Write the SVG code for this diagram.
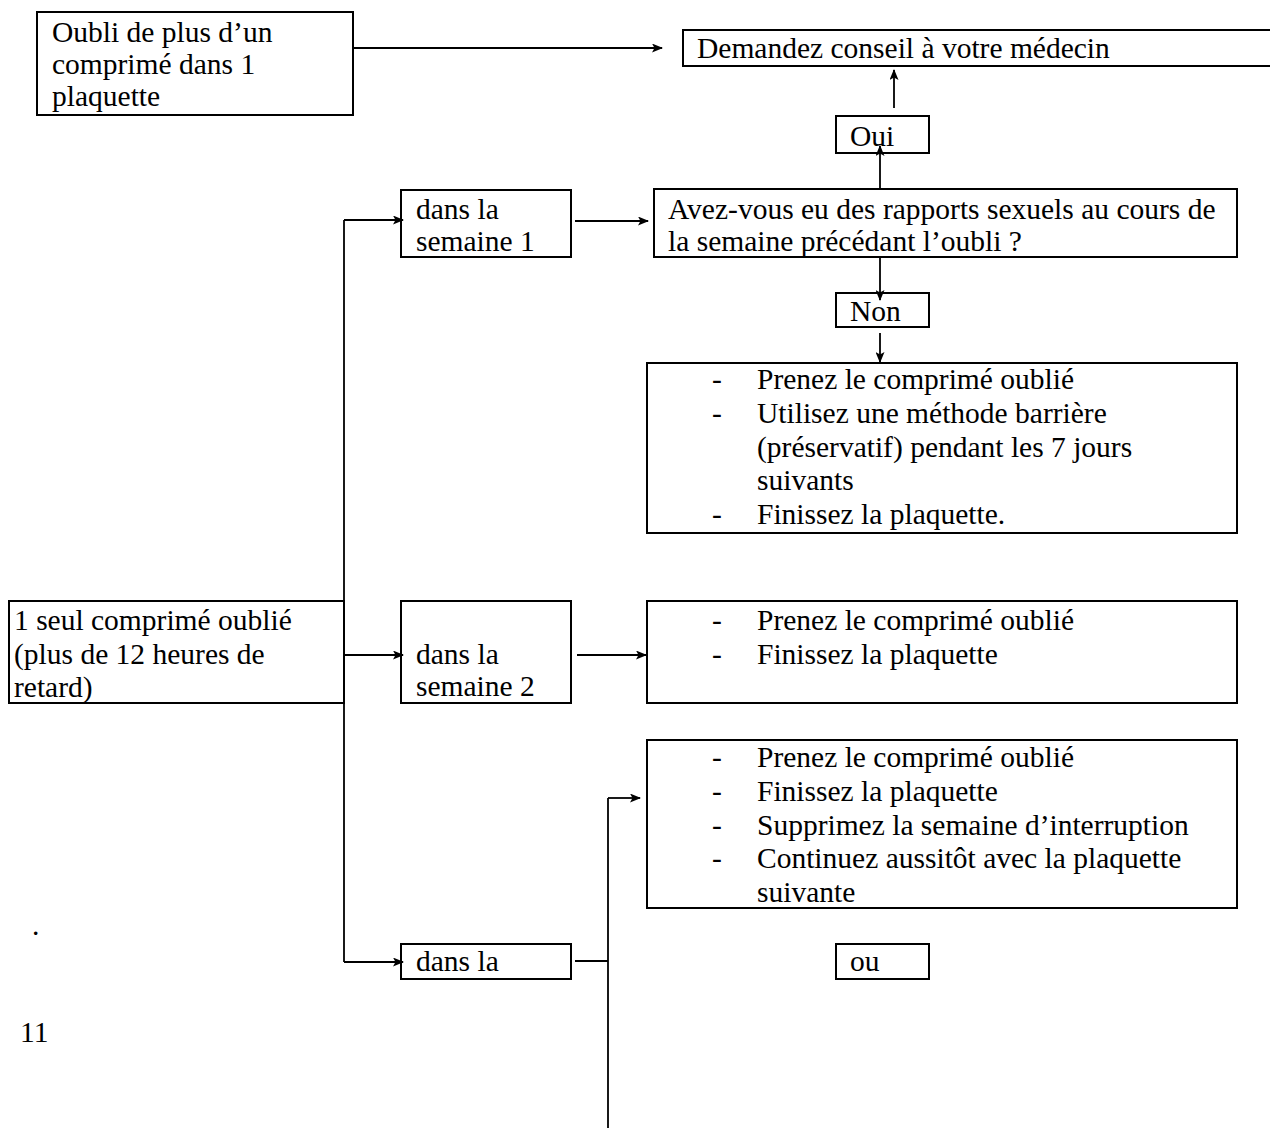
<svg xmlns="http://www.w3.org/2000/svg" width="1270" height="1131" viewBox="0 0 1270 1131">
<defs>
<marker id="ah" markerWidth="11" markerHeight="9" refX="10" refY="4.5" orient="auto" markerUnits="userSpaceOnUse">
<path d="M0,0 L11,4.5 L0,9 L2.5,4.5 Z" fill="#000"/>
</marker>
<style>
.box{fill:#fff;stroke:#000;stroke-width:2}
.t{font-family:"Liberation Serif","Times New Roman",serif;font-size:29.5px;fill:#000}
.c{fill:none;stroke:#000;stroke-width:1.8}
.a{fill:none;stroke:#000;stroke-width:1.8;marker-end:url(#ah)}
</style>
</defs>
<rect width="1270" height="1131" fill="#fff"/>
<g id="n-oubli-plus"><rect class="box" x="37" y="12" width="316" height="103"/>
<text class="t" x="52" y="42">Oubli de plus d’un</text><text class="t" x="52" y="74">comprimé dans 1</text><text class="t" x="52" y="106">plaquette</text></g>
<g id="n-medecin"><rect class="box" x="683" y="30" width="590" height="36"/>
<text class="t" x="697" y="58">Demandez conseil à votre médecin</text></g>
<g id="n-oui"><rect class="box" x="836" y="116" width="93" height="37"/>
<text class="t" x="850" y="146">Oui</text></g>
<g id="n-sem1"><rect class="box" x="401" y="190" width="170" height="67"/>
<text class="t" x="416" y="219">dans la</text><text class="t" x="416" y="251">semaine 1</text></g>
<g id="n-question"><rect class="box" x="654" y="189" width="583" height="68"/>
<text class="t" x="668" y="219">Avez-vous eu des rapports sexuels au cours de</text><text class="t" x="668" y="251">la semaine précédant l’oubli ?</text></g>
<g id="n-non"><rect class="box" x="836" y="293" width="93" height="34"/>
<text class="t" x="850" y="321">Non</text></g>
<g id="n-list1"><rect class="box" x="647" y="363" width="590" height="170"/>
<text class="t" x="712" y="389">-</text><text class="t" x="757" y="389">Prenez le comprimé oublié</text>
<text class="t" x="712" y="423">-</text><text class="t" x="757" y="423">Utilisez une méthode barrière</text>
<text class="t" x="757" y="457">(préservatif) pendant les 7 jours</text>
<text class="t" x="757" y="490">suivants</text>
<text class="t" x="712" y="524">-</text><text class="t" x="757" y="524">Finissez la plaquette.</text></g>
<g id="n-seul"><rect class="box" x="9" y="601" width="335" height="102"/>
<text class="t" x="14" y="630">1 seul comprimé oublié</text><text class="t" x="14" y="664">(plus de 12 heures de</text><text class="t" x="14" y="697">retard)</text></g>
<g id="n-sem2"><rect class="box" x="401" y="601" width="170" height="102"/>
<text class="t" x="416" y="664">dans la</text><text class="t" x="416" y="696">semaine 2</text></g>
<g id="n-list2"><rect class="box" x="647" y="601" width="590" height="102"/>
<text class="t" x="712" y="630">-</text><text class="t" x="757" y="630">Prenez le comprimé oublié</text>
<text class="t" x="712" y="664">-</text><text class="t" x="757" y="664">Finissez la plaquette</text></g>
<g id="n-list3"><rect class="box" x="647" y="740" width="590" height="168"/>
<text class="t" x="712" y="767">-</text><text class="t" x="757" y="767">Prenez le comprimé oublié</text>
<text class="t" x="712" y="801">-</text><text class="t" x="757" y="801">Finissez la plaquette</text>
<text class="t" x="712" y="835">-</text><text class="t" x="757" y="835">Supprimez la semaine d’interruption</text>
<text class="t" x="712" y="868">-</text><text class="t" x="757" y="868">Continuez aussitôt avec la plaquette</text>
<text class="t" x="757" y="902">suivante</text></g>
<g id="n-sem3"><rect class="box" x="401" y="944" width="170" height="35"/>
<text class="t" x="416" y="971">dans la</text></g>
<g id="n-ou"><rect class="box" x="836" y="944" width="93" height="35"/>
<text class="t" x="850" y="971">ou</text></g>
<text class="t" x="32" y="935">.</text>
<text class="t" x="20" y="1042">11</text>
<g id="connectors">
<line class="a" x1="354" y1="48" x2="662" y2="48"/>
<line class="a" x1="894" y1="108" x2="894" y2="70"/>
<line class="a" x1="880" y1="189" x2="880" y2="146"/>
<line class="a" x1="880" y1="257" x2="880" y2="300"/>
<line class="a" x1="880" y1="333" x2="880" y2="362"/>
<polyline class="c" points="344,962 344,220"/>
<line class="a" x1="344" y1="220" x2="403" y2="220"/>
<line class="a" x1="344" y1="655" x2="403" y2="655"/>
<line class="a" x1="344" y1="962" x2="403" y2="962"/>
<line class="a" x1="575" y1="221" x2="648" y2="221"/>
<line class="a" x1="577" y1="655" x2="646" y2="655"/>
<line class="c" x1="575" y1="961" x2="608" y2="961"/>
<line class="c" x1="608" y1="1128" x2="608" y2="798"/>
<line class="a" x1="608" y1="798" x2="640" y2="798"/>
</g>
</svg>
